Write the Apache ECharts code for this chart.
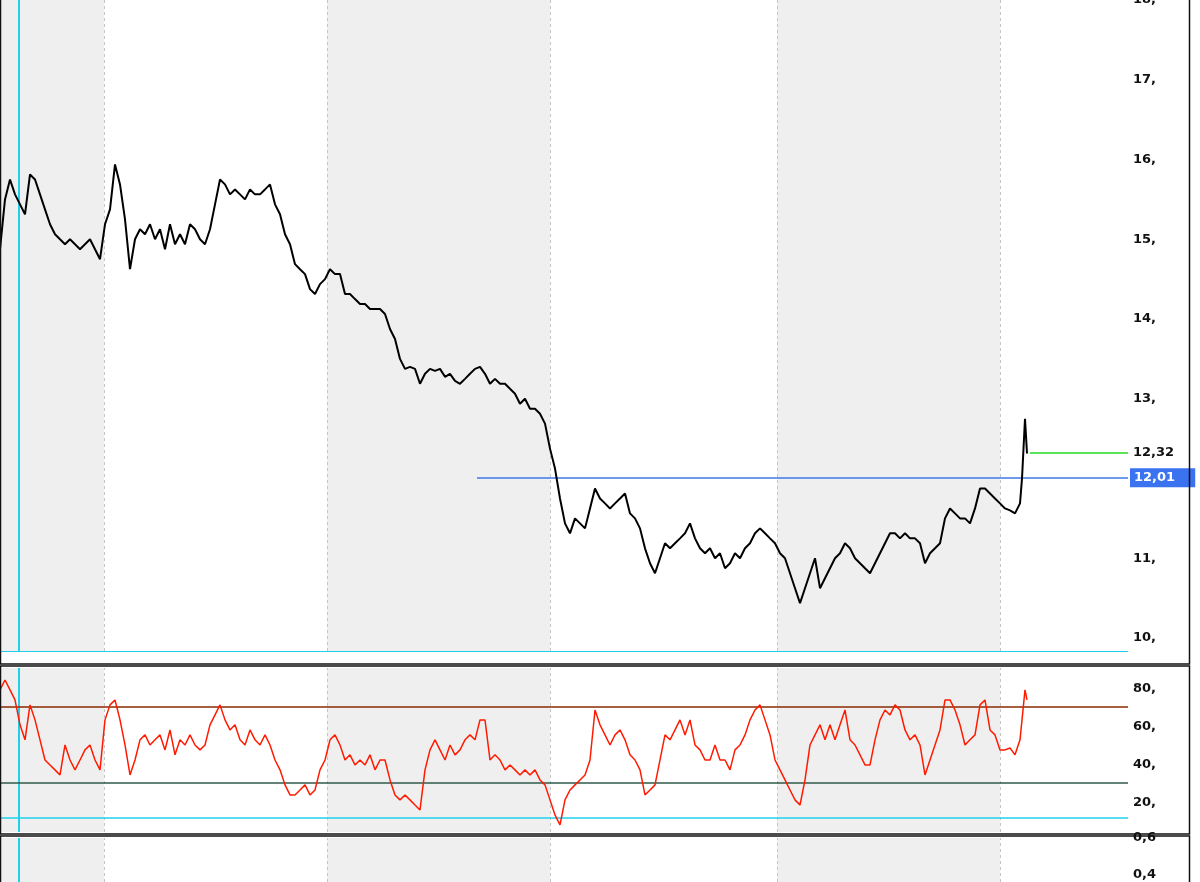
<!DOCTYPE html>
<html><head><meta charset="utf-8">
<script src="https://cdn.jsdelivr.net/npm/echarts@6/dist/echarts.min.js"></script>
<style>html,body{margin:0;padding:0;background:#fff}#c{width:1200px;height:882px}</style>
</head><body><div id="c"></div>
<script>
// price trace: [x position on time axis, price]
const priceX = [0,5,10,15,20,25,30,35,40,45,50,55,60,65,70,75,80,85,90,95,100,105,110,115,120,125,130,135,140,145,150,155,160,165,170,175,180,185,190,195,200,205,210,215,220,225,230,235,240,245,250,255,260,265,270,275,280,285,290,295,300,305,310,315,320,325,330,335,340,345,350,355,360,365,370,375,380,385,390,395,400,405,410,415,420,425,430,435,440,445,450,455,460,465,470,475,480,485,490,495,500,505,510,515,520,525,530,535,540,545,550,555,560,565,570,575,580,585,590,595,600,605,610,615,620,625,630,635,640,645,650,655,660,665,670,675,680,685,690,695,700,705,710,715,720,725,730,735,740,745,750,755,760,765,770,775,780,785,790,795,800,805,810,815,820,825,830,835,840,845,850,855,860,865,870,875,880,885,890,895,900,905,910,915,920,925,930,935,940,945,950,955,960,965,970,975,980,985,990,995,1000,1005,1010,1015,1020,1022,1025,1027];
const pricePx = [250,200,180,195,205,215,175,180,195,210,225,235,240,245,240,245,250,245,240,250,260,225,210,165,185,220,270,240,230,235,225,240,230,250,225,245,235,245,225,230,240,245,230,205,180,185,195,190,195,200,190,195,195,190,185,205,215,235,245,265,270,275,290,295,285,280,270,275,275,295,295,300,305,305,310,310,310,315,330,340,360,370,368,370,385,375,370,372,370,378,375,382,385,380,375,370,368,375,385,380,385,385,390,395,405,400,410,410,415,425,450,470,500,525,535,520,525,530,510,490,500,505,510,505,500,495,515,520,530,550,565,575,560,545,550,545,540,535,525,540,550,555,550,560,555,570,565,555,560,550,545,535,530,535,540,545,555,560,575,590,605,590,575,560,590,580,570,560,555,545,550,560,565,570,575,565,555,545,535,535,540,535,540,540,545,565,555,550,545,520,510,515,520,520,525,510,490,490,495,500,505,510,512,515,505,480,420,455];
const rsiPx = [690,680,690,700,725,740,705,720,740,760,765,770,775,745,760,770,760,750,745,760,770,720,705,700,720,745,775,760,740,735,745,740,735,750,730,755,740,745,735,745,750,745,725,715,705,720,730,725,740,745,730,740,745,735,745,760,770,785,795,795,790,785,795,790,770,760,740,735,745,760,755,765,760,765,755,770,760,760,780,795,800,795,800,805,810,770,750,740,750,760,745,755,750,740,735,740,720,720,760,755,760,770,765,770,775,770,775,770,780,785,800,815,825,800,790,785,780,775,760,710,725,735,745,735,730,740,755,760,770,795,790,785,760,735,740,730,720,735,720,745,750,760,760,745,760,760,770,750,745,735,720,710,705,720,735,760,770,780,790,800,805,780,745,735,725,740,725,740,725,710,740,745,755,765,765,740,720,710,715,705,710,730,740,735,745,775,760,745,730,700,700,710,725,745,740,735,705,700,730,735,750,750,748,755,740,720,690,700];
const priceTicks = [10,11,12,13,14,15,16,17,18];
const rsiTicks = [20,40,60,80];
const lowTicks = [0.4,0.6];
const lastPrice = 12.32, levelPrice = 12.01;

const price = priceX.map((x,i)=>[x, +(18 - pricePx[i]/80).toFixed(3)]);
const rsi = priceX.map((x,i)=>[x, +(80 - (rsiPx[i]-689)/1.9).toFixed(1)]);

const bands = [[0,104],[327,550],[777,1000]];
const divs = [104,327,550,777,1000];
function deco(){
  return {markArea:{silent:true,itemStyle:{color:'#efefef'},data:bands.map(b=>[{xAxis:b[0]},{xAxis:b[1]}])}};
}
function vlines(extra){
  const d = divs.map(x=>({xAxis:x,lineStyle:{color:'#c4c4c4',type:[3,3],width:1}}));
  d.push({xAxis:19,lineStyle:{color:'#1fd0ec',type:'solid',width:2}});
  return {silent:true,symbol:'none',label:{show:false},data:d.concat(extra||[])};
}
const lab = {fontFamily:'DejaVu Sans',fontWeight:'bold',fontSize:13,color:'#111',inside:false};
const xa = i=>({type:'value',gridIndex:i,min:0,max:1128,show:false});
const ya = (i,min,max,ticks,fmt)=>({type:'value',gridIndex:i,min,max,position:'right',
  splitLine:{show:false},axisTick:{show:false},
  axisLine:{show:true,lineStyle:{color:'#4a4a2a',width:1.5}},
  axisLabel:Object.assign({customValues:ticks,formatter:fmt,margin:5},lab)});
const g = (top,height)=>({left:0,right:72,top,height,containLabel:false,outerBoundsMode:'none'});

const opt = {
  animation:false,
  grid:[g(0,651),g(668,164),g(838,50)],
  xAxis:[xa(0),xa(1),xa(2)],
  yAxis:[ya(0,9.8375,18,priceTicks,v=>v+','),ya(1,4.7,91,rsiTicks,v=>v+','),ya(2,0.325,0.6,lowTicks,v=>String(v).replace('.',','))],
  series:[
    Object.assign({type:'line',xAxisIndex:0,yAxisIndex:0,data:price,symbol:'none',z:5,
      lineStyle:{color:'#000',width:2},
      markLine:vlines([
        {yAxis:9.84,lineStyle:{color:'#1fd0ec',type:'solid',width:1}},
        [{coord:[477,levelPrice],lineStyle:{color:'#3d7ae8',type:'solid',width:1.5}},{coord:[1128,levelPrice],label:{show:true,position:'end',distance:2,formatter:'12,01    ',color:'#fff',backgroundColor:'#3a72f0',padding:[3,2,3,4],fontFamily:'DejaVu Sans',fontWeight:'bold',fontSize:13}}],
        [{coord:[1030,lastPrice],lineStyle:{color:'#22dd22',type:'solid',width:1.5}},{coord:[1128,lastPrice],label:{show:true,position:'end',distance:5,formatter:'12,32',color:'#111',fontFamily:'DejaVu Sans',fontWeight:'bold',fontSize:13}}]
      ])},deco()),
    Object.assign({type:'line',xAxisIndex:1,yAxisIndex:1,data:rsi,symbol:'none',z:5,
      lineStyle:{color:'#ff1a00',width:1.5},
      markLine:vlines([
        {yAxis:70.5,lineStyle:{color:'#8b2a00',type:'solid',width:1.5}},
        {yAxis:30.5,lineStyle:{color:'#2f5a4a',type:'solid',width:1.5}},
        {yAxis:12,lineStyle:{color:'#1fd0ec',type:'solid',width:1.5}}
      ])},deco()),
    Object.assign({type:'line',xAxisIndex:2,yAxisIndex:2,data:[[-10,0.5]],symbol:'none',
      markLine:vlines()},deco())
  ],
  graphic:[
    {type:'rect',shape:{x:0.5,y:-2,width:1189,height:666},style:{fill:'none',stroke:'#111',lineWidth:1.5},z:100},
    {type:'rect',shape:{x:0.5,y:666,width:1189,height:168},style:{fill:'none',stroke:'#111',lineWidth:1.5},z:100},
    {type:'rect',shape:{x:0.5,y:836,width:1189,height:60},style:{fill:'none',stroke:'#111',lineWidth:1.5},z:100}
  ]
};
echarts.init(document.getElementById('c')).setOption(opt);
</script></body></html>
